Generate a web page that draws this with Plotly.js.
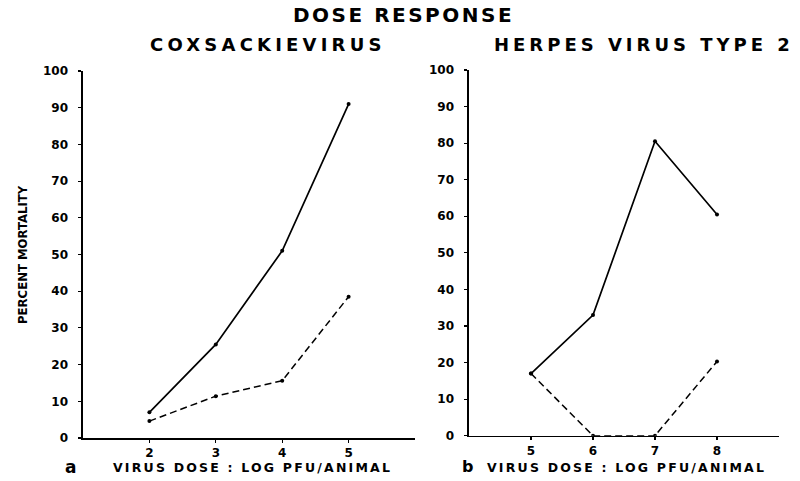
<!DOCTYPE html>
<html>
<head>
<meta charset="utf-8">
<script src="https://cdn.plot.ly/plotly-3.0.1.min.js"></script>
<style>html,body{margin:0;padding:0;background:#fff;}#chart{width:800px;height:481px;}</style>
</head>
<body>
<div id="chart"></div>
<script>
// Panel a: Coxsackievirus
const coxDose = [2, 3, 4, 5];
const coxSolid = [7, 25.5, 51, 91];
const coxDashed = [4.6, 11.4, 15.6, 38.5];
// Panel b: Herpes virus type 2
const hsvDose = [5, 6, 7, 8];
const hsvSolid = [17, 33, 80.5, 60.5];
const hsvDashed = [17, 0, 0, 20.3];
const yTicks = [0, 10, 20, 30, 40, 50, 60, 70, 80, 90, 100];
const coxTicks = [2, 3, 4, 5];
const hsvTicks = [5, 6, 7, 8];

const FONT = 'DejaVu Sans, Verdana, sans-serif';
const lineS = {color: '#000', width: 1.7, dash: 'solid'};
const lineD = {color: '#000', width: 1.5, dash: '7px,4px'};
const mk = {size: 4, color: '#000', symbol: 'circle'};

const traces = [
  {x: coxDose, y: coxSolid, mode: 'lines+markers', line: lineS, marker: mk, xaxis: 'x', yaxis: 'y'},
  {x: coxDose, y: coxDashed, mode: 'lines+markers', line: lineD, marker: mk, xaxis: 'x', yaxis: 'y'},
  {x: hsvDose, y: hsvSolid, mode: 'lines+markers', line: lineS, marker: mk, xaxis: 'x2', yaxis: 'y2'},
  {x: hsvDose, y: hsvDashed, mode: 'lines+markers', line: lineD, marker: mk, xaxis: 'x2', yaxis: 'y2'}
];

const tickFont = {family: FONT, size: 12, color: '#000', weight: 'bold'};
const axBase = {
  showgrid: false, zeroline: false, showline: true, linecolor: '#000', linewidth: 1.6,
  ticks: 'outside', ticklen: 3, tickwidth: 1.2, tickcolor: '#000', tickfont: tickFont,
  fixedrange: true
};
const sp = (t, px) => '<span style="letter-spacing:' + px + 'px">' + t + '</span>';
const ann = (text, x, y, size, extra) => Object.assign({
  text: text, x: x / 800, y: 1 - y / 481, xref: 'paper', yref: 'paper', showarrow: false,
  xanchor: 'center', yanchor: 'middle', font: {family: FONT, size: size, weight: 'bold', color: '#000'}
}, extra || {});

const layout = {
  width: 800, height: 481,
  margin: {l: 0, r: 0, t: 0, b: 0},
  paper_bgcolor: '#fff', plot_bgcolor: '#fff',
  showlegend: false,
  xaxis: Object.assign({}, axBase, {domain: [83/800, 415/800], range: [1, 6], tickvals: coxTicks, anchor: 'y'}),
  yaxis: Object.assign({}, axBase, {domain: [1 - 438/481, 1 - 71/481], range: [0, 100], tickvals: yTicks, anchor: 'x', ticklabelstandoff: 8}),
  xaxis2: Object.assign({}, axBase, {domain: [469/800, 779/800], range: [4, 9], tickvals: hsvTicks, anchor: 'y2'}),
  yaxis2: Object.assign({}, axBase, {domain: [1 - 435.7/481, 1 - 70/481], range: [0, 100], tickvals: yTicks, anchor: 'x2', ticklabelstandoff: 8}),
  annotations: [
    ann(sp('DOSE RESPONSE', 2.5), 403, 15, 20),
    ann(sp('COXSACKIEVIRUS', 4.2), 268, 44, 18),
    ann(sp('HERPES VIRUS TYPE 2', 4), 644, 44, 18),
    ann('PERCENT MORTALITY', 22, 255, 13, {textangle: -90, font: {family: 'DejaVu Sans Condensed, Liberation Sans Narrow, sans-serif', size: 13, weight: 'bold', color: '#000'}}),
    ann('a', 70, 467, 17),
    ann(sp('VIRUS DOSE : LOG PFU/ANIMAL', 2.2), 252, 467, 12.5),
    ann('b', 467, 466, 16),
    ann(sp('VIRUS DOSE : LOG PFU/ANIMAL', 2.2), 626, 467, 12.5)
  ]
};

Plotly.newPlot('chart', traces, layout, {displayModeBar: false, staticPlot: true});
</script>
</body>
</html>
